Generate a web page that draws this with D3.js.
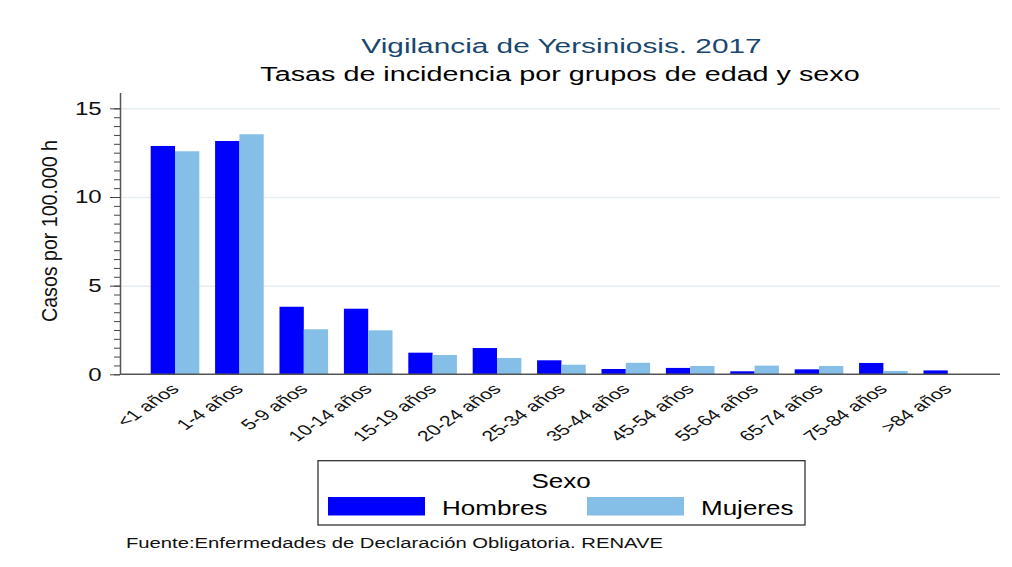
<!DOCTYPE html>
<meta charset="utf-8">
<script src="https://d3js.org/d3.v7.min.js"></script>
<style>
  body { margin: 0; background: #fff; }
  text { font-family: "Liberation Sans", Arial, sans-serif; }
</style>
<div id="chart"></div>
<script>

// data
var ageGroups = ["<1 años", "1-4 años", "5-9 años", "10-14 años", "15-19 años", "20-24 años",
  "25-34 años", "35-44 años", "45-54 años", "55-64 años", "65-74 años", "75-84 años", ">84 años"];
var hombres = [12.88, 13.16, 3.81, 3.70, 1.22, 1.48, 0.79, 0.30, 0.36, 0.17, 0.28, 0.64, 0.22];
var mujeres = [12.58, 13.54, 2.54, 2.48, 1.09, 0.92, 0.54, 0.65, 0.47, 0.49, 0.47, 0.19, 0];
var sexes = ["Hombres", "Mujeres"];
var sexColors = ["#0000ff", "#85bfe8"];
var majorTicks = [0, 5, 10, 15];
var minorTicks = d3.range(0, 15.01, 0.5);

var W = 1012, H = 567;
var SX = 1.3;   // the picture's text is a bit stretched sideways

var svg = d3.select("#chart").append("svg")
  .attr("width", W)
  .attr("height", H);

// text helper: place at x,y and stretch horizontally
function stext(x, y, sx) {
  return svg.append("text")
    .attr("transform", "translate(" + x + "," + y + ") scale(" + sx + ",1)");
}

// scales
var plotLeft = 120, plotRight = 1000;
var y = d3.scaleLinear().domain([0, 15.9]).range([374.3, 92.4]);
var x0 = d3.scaleBand().domain(ageGroups).range([150.7, 972.1]).paddingInner(0.245).paddingOuter(0);
var x1 = d3.scaleBand().domain(sexes).range([0, x0.bandwidth()]);

// grid lines
svg.append("g")
  .attr("transform", "translate(" + plotLeft + ",0)")
  .call(d3.axisLeft(y).tickValues(majorTicks.slice(1)).tickSize(-(plotRight - plotLeft)).tickFormat(""))
  .call(function(g) { g.select(".domain").remove(); })
  .selectAll("line")
    .attr("stroke", "#e6eef1")
    .attr("stroke-width", 1.5);

// bars
var rows = ageGroups.map(function(a, i) { return {age: a, values: [hombres[i], mujeres[i]]}; });
svg.selectAll("g.grp")
  .data(rows)
  .enter().append("g")
    .attr("class", "grp")
    .attr("transform", function(d) { return "translate(" + x0(d.age) + ",0)"; })
  .selectAll("rect")
  .data(function(d) { return d.values.map(function(v, j) { return {sex: sexes[j], v: v, c: sexColors[j]}; }); })
  .enter().append("rect")
    .attr("x", function(d) { return x1(d.sex); })
    .attr("y", function(d) { return y(d.v); })
    .attr("width", x1.bandwidth())
    .attr("height", function(d) { return y(0) - y(d.v); })
    .attr("fill", function(d) { return d.c; });

// x axis baseline
svg.append("line")
  .attr("x1", plotLeft).attr("x2", plotRight)
  .attr("y1", y(0)).attr("y2", y(0))
  .attr("stroke", "#555").attr("stroke-width", 1.5);

// y axis: minor ticks, then major ticks with labels
svg.append("g")
  .attr("transform", "translate(" + plotLeft + ",0)")
  .call(d3.axisLeft(y).tickValues(minorTicks).tickSize(6).tickFormat(""))
  .call(function(g) { g.select(".domain").remove(); })
  .selectAll("line").attr("stroke", "#444");

var yAxis = svg.append("g")
  .attr("transform", "translate(" + plotLeft + ",0)")
  .call(d3.axisLeft(y).tickValues(majorTicks).tickSize(10).tickSizeOuter(0));
yAxis.select(".domain").attr("stroke", "#555").attr("stroke-width", 1.5);
yAxis.selectAll("line").attr("stroke", "#444");
yAxis.selectAll("text")
  .attr("x", null)
  .attr("transform", "translate(-18.3,0) scale(" + SX + ",1)")
  .attr("font-size", 18.5)
  .attr("font-family", "Liberation Sans, Arial, sans-serif")
  .attr("fill", "#111");

// x labels, rotated 45°
ageGroups.forEach(function(a) {
  var cx = x0(a) + x0.bandwidth() / 2;
  svg.append("text")
    .attr("transform", "translate(" + (cx + 5) + ",390) scale(1.45,1) rotate(-45)")
    .attr("text-anchor", "end")
    .attr("font-size", 14.8)
    .attr("fill", "#111")
    .text(a);
});

// y title
svg.append("text")
  .attr("transform", "translate(57," + 231 + ") scale(1.1,1) rotate(-90)")
  .attr("text-anchor", "middle")
  .attr("font-size", 19.6)
  .attr("fill", "#111")
  .text("Casos por 100.000 h");

// titles
stext(561.5, 53, 1.42)
  .attr("text-anchor", "middle")
  .attr("font-size", 21)
  .attr("fill", "#1a476f")
  .text("Vigilancia de Yersiniosis. 2017");
stext(560, 81, 1.37)
  .attr("text-anchor", "middle")
  .attr("font-size", 21)
  .attr("fill", "#000")
  .text("Tasas de incidencia por grupos de edad y sexo");

// legend
svg.append("rect")
  .attr("x", 318).attr("y", 460.7)
  .attr("width", 487).attr("height", 64.3)
  .attr("fill", "#fff").attr("stroke", "#333").attr("stroke-width", 1.3);
stext(561, 488, SX)
  .attr("text-anchor", "middle")
  .attr("font-size", 20)
  .text("Sexo");
var legendX = [328, 587];
sexes.forEach(function(s, i) {
  svg.append("rect")
    .attr("x", legendX[i]).attr("y", 497)
    .attr("width", 97).attr("height", 18.5)
    .attr("fill", sexColors[i]);
  stext(legendX[i] + 114, 515, SX)
    .attr("font-size", 20)
    .text(s);
});

// source note
stext(126, 548, 1.35)
  .attr("font-size", 15)
  .attr("fill", "#111")
  .text("Fuente:Enfermedades de Declaración Obligatoria. RENAVE");

</script>
